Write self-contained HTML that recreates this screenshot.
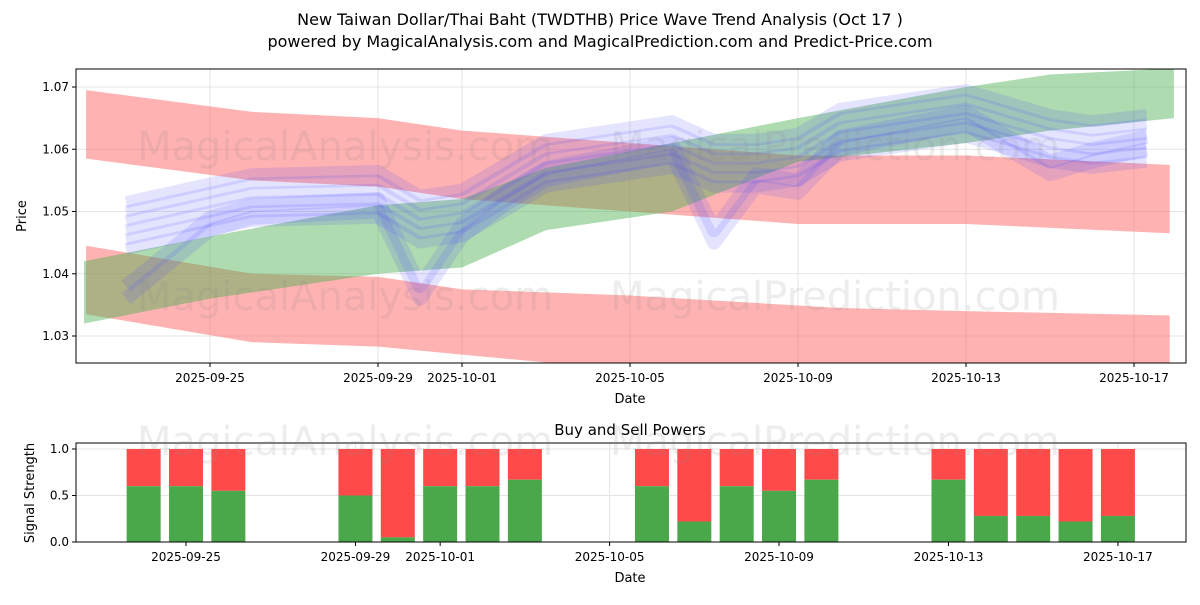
<!DOCTYPE html>
<html><head><meta charset="utf-8"><style>
body{margin:0;background:#fff;font-family:"Liberation Sans","DejaVu Sans",sans-serif}
svg text{font-family:"DejaVu Sans","Liberation Sans",sans-serif}
</style></head><body>
<svg id="c" width="1200" height="600" xmlns="http://www.w3.org/2000/svg">
<rect width="1200" height="600" fill="#fff"/>
<text x="600" y="25" font-size="16" text-anchor="middle">New Taiwan Dollar/Thai Baht (TWDTHB) Price Wave Trend Analysis (Oct 17 )</text>
<text x="600" y="47" font-size="16" text-anchor="middle">powered by MagicalAnalysis.com and MagicalPrediction.com and Predict-Price.com</text>
<defs><clipPath id="cp1"><rect x="76" y="69" width="1110" height="294"/></clipPath></defs>
<g id="topPlot" clip-path="url(#cp1)"></g>
<g id="topAxes"></g>
<g id="botPlot"></g>
</svg>
<script>
// ---- data ----
const redUpperDays=[0.05,4,7,9,13,17,21,25.85];
const redUpperTop=[1.0695,1.066,1.065,1.063,1.061,1.059,1.059,1.0575];
const redUpperBot=[1.0585,1.055,1.054,1.052,1.050,1.048,1.048,1.0465];
const redLowerDays=[0.05,4,7,9,13,18,21,25.85];
const redLowerTop=[1.0445,1.040,1.0395,1.0375,1.0365,1.0345,1.034,1.0333];
const redLowerBot=[1.0335,1.029,1.0283,1.027,1.0245,1.024,1.024,1.024];
const greenDays=[0,3,7,9,11,14,17,21,23,25.95];
const greenTop=[1.042,1.046,1.051,1.052,1.057,1.061,1.065,1.070,1.072,1.073];
const greenBot=[1.032,1.036,1.040,1.041,1.047,1.050,1.058,1.061,1.063,1.065];
const blueDays=[1,3,4,7,8,9,10,11,14,15,16,17,18,21,22,23,24,25.3];
const blueMid=[1.048,1.051,1.0525,1.053,1.049,1.050,1.054,1.058,1.061,1.058,1.058,1.059,1.063,1.066,1.064,1.062,1.061,1.062];
const blueLow=[1.036,1.047,1.049,1.050,1.036,1.046,1.051,1.055,1.059,1.045,1.054,1.053,1.060,1.064,1.060,1.056,1.058,1.060];
const barDays=[2,3,4,7,8,9,10,11,14,15,16,17,18,21,22,23,24,25];
const buyVals=[0.6,0.6,0.55,0.5,0.05,0.6,0.6,0.67,0.6,0.22,0.6,0.55,0.67,0.67,0.28,0.28,0.22,0.28];
const xTickDays=[3,7,9,13,17,21,25];
const xTickLabels=["2025-09-25","2025-09-29","2025-10-01","2025-10-05","2025-10-09","2025-10-13","2025-10-17"];
const yTicks=[1.03,1.04,1.05,1.06,1.07];
const y2Ticks=[0,0.5,1.0];
// ---- axes ----
const X=d=>84+42*d;
const X2=d=>186+42.36*(d-3);
const Y=v=>87+(1.07-v)*6225;
const Y2=v=>542-93*v;
const NS="http://www.w3.org/2000/svg";
function mk(p,tag,at){const e=document.createElementNS(NS,tag);for(const k in at)e.setAttribute(k,at[k]);p.appendChild(e);return e;}
const topG=document.getElementById('topPlot'),axG=document.getElementById('topAxes'),botG=document.getElementById('botPlot');
const svgRoot=document.getElementById('c');
yTicks.forEach(v=>{const l=mk(topG,'line',{x1:76,x2:1186,y1:Y(v),y2:Y(v),stroke:'#ddd','stroke-width':0.8});

});
xTickDays.forEach(d=>{const l=mk(topG,'line',{x1:X(d),x2:X(d),y1:69,y2:363,stroke:'#ddd','stroke-width':0.8});

});
function band(days,t,b,fill,op,name){
 let pts=days.map((d,i)=>X(d)+','+Y(t[i]));
 for(let i=days.length-1;i>=0;i--)pts.push(X(days[i])+','+Y(b[i]));
 const p=mk(topG,'polygon',{points:pts.join(' '),fill:fill,'fill-opacity':op});
 
 
}
band(redUpperDays,redUpperTop,redUpperBot,'#ff6666',0.5,'red-upper-band');
band(redLowerDays,redLowerTop,redLowerBot,'#ff6666',0.5,'red-lower-band');
band(greenDays,greenTop,greenBot,'#4caf50',0.45,'green-band');
const offs=[-0.004,-0.0025,-0.001,0.0005,0.002,0.0035];
offs.forEach(o=>{
 const p=mk(topG,'polyline',{points:blueDays.map((d,i)=>X(d)+','+Y(blueMid[i]+o)).join(' '),fill:'none',stroke:'#4d4dff','stroke-opacity':0.15,'stroke-width':12,'stroke-linejoin':'round'});
 
 
});
[0,0.002].forEach(o=>{
 const p=mk(topG,'polyline',{points:blueDays.map((d,i)=>X(d)+','+Y(blueLow[i]+o)).join(' '),fill:'none',stroke:'#4d4dff','stroke-opacity':0.15,'stroke-width':14,'stroke-linejoin':'round'});
 
 
});
[[345,160,'MagicalAnalysis.com'],[835,160,'MagicalPrediction.com'],[345,310,'MagicalAnalysis.com'],[835,310,'MagicalPrediction.com'],[345,455,'MagicalAnalysis.com'],[835,455,'MagicalPrediction.com']].forEach(w=>{
 const t=mk(svgRoot,'text',{x:w[0],y:w[1],'font-size':40,'text-anchor':'middle',fill:'#888','fill-opacity':0.15});
 t.textContent=w[2];
 
 
});
const f=mk(axG,'rect',{x:76,y:69,width:1110,height:294,fill:'none',stroke:'#000','stroke-width':1});


yTicks.forEach(v=>{mk(axG,'line',{x1:72,x2:76,y1:Y(v),y2:Y(v),stroke:'#000'});
 const t=mk(axG,'text',{x:69,y:Y(v)+4,'font-size':12,'text-anchor':'end'});t.textContent=v.toFixed(2);
 
 });
xTickDays.forEach((d,i)=>{mk(axG,'line',{x1:X(d),x2:X(d),y1:363,y2:367,stroke:'#000'});
 const t=mk(axG,'text',{x:X(d),y:382,'font-size':12,'text-anchor':'middle'});t.textContent=xTickLabels[i];
 
 });
let t=mk(axG,'text',{x:630,y:403,'font-size':13,'text-anchor':'middle'});t.textContent='Date';


t=mk(axG,'text',{x:26,y:216,'font-size':13,'text-anchor':'middle',transform:'rotate(-90 26 216)'});t.textContent='Price';


t=mk(botG,'text',{x:630,y:435,'font-size':15,'text-anchor':'middle'});t.textContent='Buy and Sell Powers';


y2Ticks.forEach(v=>{const l=mk(botG,'line',{x1:76,x2:1186,y1:Y2(v),y2:Y2(v),stroke:'#e4e4e4'});
 
 });
xTickDays.forEach(d=>{const l=mk(botG,'line',{x1:X2(d),x2:X2(d),y1:443,y2:542,stroke:'#e4e4e4'});
 
 });
barDays.forEach((d,i)=>{
 const x=X2(d)-17;
 const r=mk(botG,'rect',{x:x,y:Y2(1),width:34,height:Y2(buyVals[i])-Y2(1),fill:'#ff4a4a'});
 
 
 const g=mk(botG,'rect',{x:x,y:Y2(buyVals[i]),width:34,height:Y2(0)-Y2(buyVals[i]),fill:'#4aa84a'});
 
 
});
const f2=mk(botG,'rect',{x:76,y:443,width:1110,height:99,fill:'none',stroke:'#000'});


y2Ticks.forEach(v=>{mk(botG,'line',{x1:72,x2:76,y1:Y2(v),y2:Y2(v),stroke:'#000'});
 const tt=mk(botG,'text',{x:69,y:Y2(v)+4,'font-size':12,'text-anchor':'end'});tt.textContent=v.toFixed(1);
 
 });
xTickDays.forEach((d,i)=>{mk(botG,'line',{x1:X2(d),x2:X2(d),y1:542,y2:546,stroke:'#000'});
 const tt=mk(botG,'text',{x:X2(d),y:561,'font-size':12,'text-anchor':'middle'});tt.textContent=xTickLabels[i];
 
 });
t=mk(botG,'text',{x:630,y:582,'font-size':13,'text-anchor':'middle'});t.textContent='Date';


t=mk(botG,'text',{x:34,y:493,'font-size':13,'text-anchor':'middle',transform:'rotate(-90 34 493)'});t.textContent='Signal Strength';


</script>
</body></html>
